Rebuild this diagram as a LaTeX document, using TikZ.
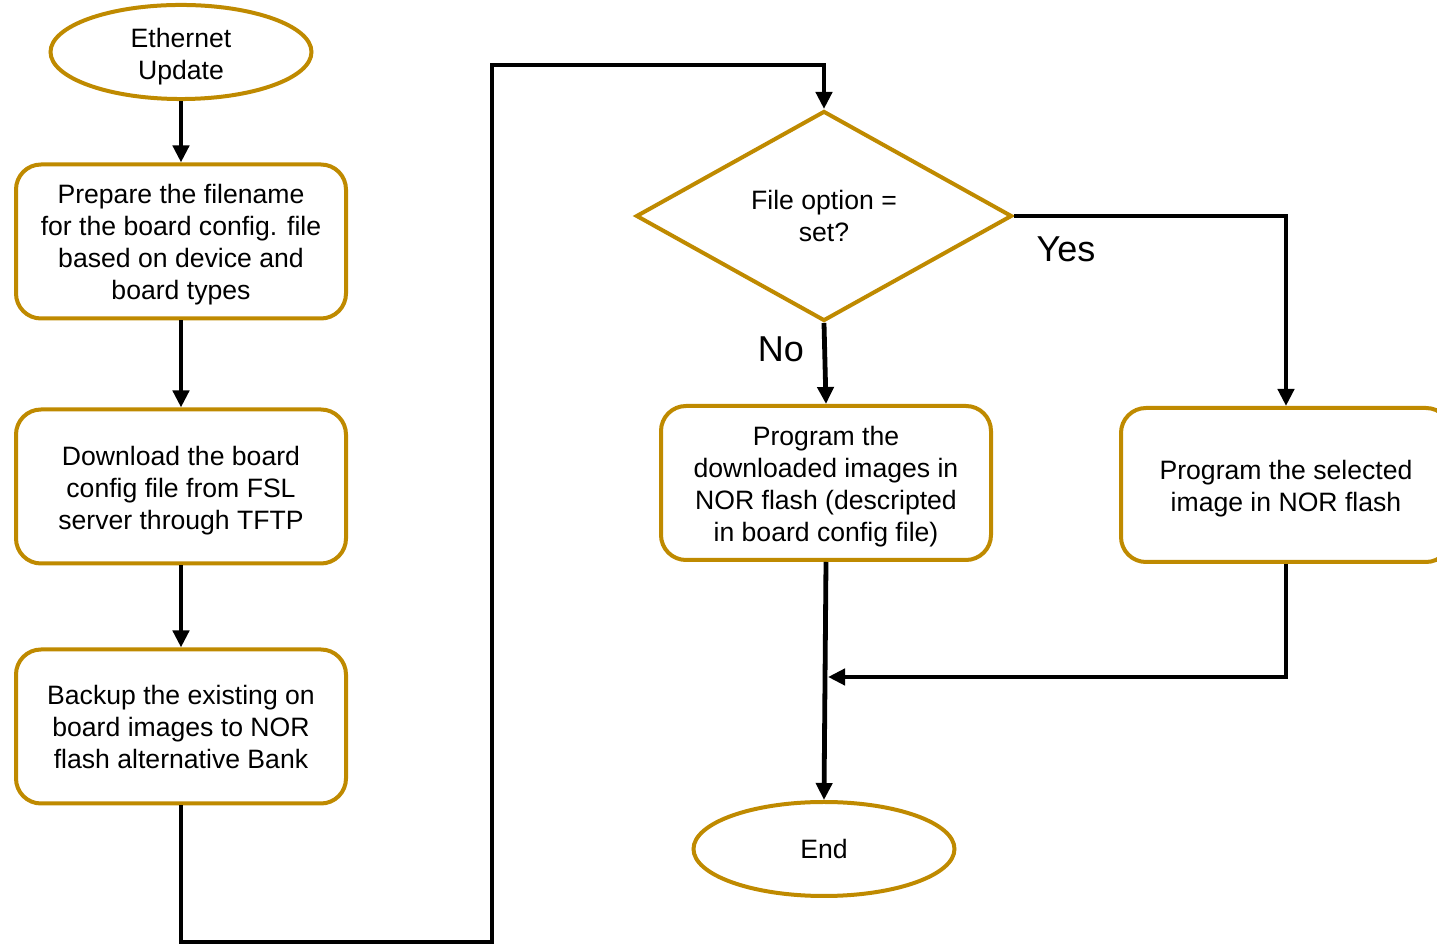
\documentclass[tikz,border=0pt]{standalone}
\usepackage{fontspec}
\setmainfont{Liberation Sans}
\usetikzlibrary{shapes.geometric,arrows.meta}
\definecolor{gold}{RGB}{191,138,0}
% invisible rule that gives the first text line a taller top
\newcommand\capstrut[1]{\rule{0pt}{#1}}
\tikzset{
  base/.style={draw=gold, line width=2pt, fill=white, align=center, inner sep=0pt,
    font=\fontsize{13.3pt}{16pt}\selectfont},
  terminal/.style={base, ellipse, minimum width=130.5pt, minimum height=47pt},
  stepbox/.style={base, rectangle, rounded corners=12.5pt, minimum width=165pt, minimum height=77pt},
  decision/.style={base, diamond, minimum width=188pt, minimum height=105pt},
  flow/.style={draw=black, line width=2.4pt, -{Triangle[width=8pt,length=8.5pt]}},
  branch/.style={font=\fontsize{18pt}{22pt}\selectfont}
}
\begin{document}
\begin{tikzpicture}[x=0.5pt, y=-0.5pt]
  \useasboundingbox (0,0) rectangle (1437,945);

  % left column
  \node[terminal] (start) at (181,52) {\capstrut{14.5pt}Ethernet\\Update};
  \node[stepbox] (prep) at (181,241.5) {\capstrut{13pt}Prepare the filename\\for the board config. file\\based on device and\\board types};
  \node[stepbox] (dl) at (181,486.5) {\capstrut{13.5pt}Download the board\\config file from FSL\\server through TFTP};
  \node[stepbox] (bak) at (181,726.5) {Backup the existing on\\board images to NOR\\flash alternative Bank};

  % decision and right side
  \node[decision] (opt) at (824,216) {File option =\\set?};
  \node[stepbox] (prgall) at (826,483) {\capstrut{13.5pt}Program the\\downloaded images in\\NOR flash (descripted\\in board config file)};
  \node[stepbox] (prgsel) at (1286,485) {\capstrut{13.5pt}Program the selected\\image in NOR flash};
  \node[terminal] (end) at (824,849) {End};

  \node[branch] (yes) at (1066,249) {Yes};
  \node[branch] (no) at (781,349) {No};

  % routing points
  \coordinate (r1) at (181,942);
  \coordinate (r2) at (492,942);
  \coordinate (r3) at (492,65);
  \coordinate (r4) at (824,65);
  \coordinate (join) at (828,677);

  \draw[flow] (start) -- (prep);
  \draw[flow] (prep) -- (dl);
  \draw[flow] (dl) -- (bak);
  \draw[flow] (bak.south) -- (r1) -- (r2) -- (r3) -- (r4) -- (opt.north);
  \draw[flow] (opt.east) -| (prgsel.north);
  \draw[flow] (opt.south) -- (prgall.north);
  \draw[flow] (prgall.south) -- (end.north);
  \draw[flow] (prgsel.south) |- (join);
\end{tikzpicture}
\end{document}
